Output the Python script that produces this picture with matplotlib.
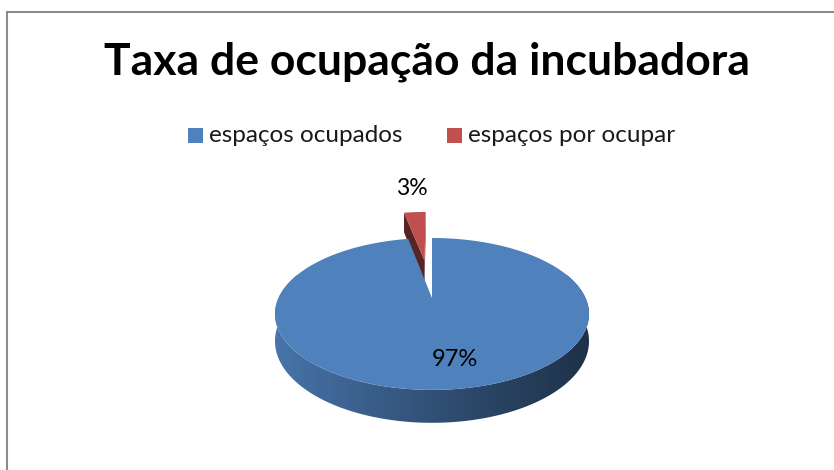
import numpy as np
import matplotlib
matplotlib.use('Agg')
import matplotlib.pyplot as plt
from matplotlib.patches import Polygon, Rectangle
from matplotlib.colors import LinearSegmentedColormap, to_rgb

title = 'Taxa de ocupação da incubadora'
categories = ['espaços ocupados', 'espaços por ocupar']
shares = [97, 3]
top_colors = ['#4f81bd', '#c0504d']
explode = [0.0, 0.58]

# disc geometry in pixel units (y grows downwards)
cx, cy = 432, 298
rx, ry = 153.5, 72.6
persp = 0.21
depth = 26


def project(theta, r=1.0, z=0.0, shift=0.0, mid=0.0):
    theta = np.asarray(theta, dtype=float)
    u = r * np.sin(theta) + shift * np.sin(mid)
    w = r * np.cos(theta) + shift * np.cos(mid)
    s = 1 + persp * w
    return cx + rx * u / s, cy - ry * w / s + z * depth / s


def shade(color, k):
    return tuple(np.clip(np.array(to_rgb(color)) * k, 0, 1))


fig = plt.figure(figsize=(8.34, 4.70), dpi=100)
ax = fig.add_axes([0, 0, 1, 1])
ax.axis('off')

total = float(sum(shares))
bounds = np.cumsum([0] + shares) / total * 2 * np.pi
cam = np.array([0.0, -1.0 / persp])

# back slices first so the front ones cover them
order = sorted(range(len(shares)), key=lambda i: -np.cos((bounds[i] + bounds[i + 1]) / 2))
for n, i in enumerate(order):
    t0, t1 = bounds[i], bounds[i + 1]
    mid = (t0 + t1) / 2
    e = explode[i]
    zb = 2 + n * 4
    p = np.array([e * np.sin(mid), e * np.cos(mid)])

    # outer wall, front part only
    lo, hi = max(t0, np.pi / 2 - 0.35), min(t1, 3 * np.pi / 2 + 0.35)
    if hi > lo:
        th = np.linspace(lo, hi, 200)
        xt, yt = project(th, shift=e, mid=mid)
        xb, yb = project(th[::-1], z=1, shift=e, mid=mid)
        wall = Polygon(np.column_stack([np.r_[xt, xb], np.r_[yt, yb]]),
                       closed=True, facecolor='none', edgecolor='none')
        ax.add_patch(wall)
        cmap = LinearSegmentedColormap.from_list(
            'wall', [shade(top_colors[i], 0.9), shade(top_colors[i], 0.62),
                     shade(top_colors[i], 0.38)])
        grad = np.linspace(0, 1, 256)[None, :]
        im = ax.imshow(grad, cmap=cmap, aspect='auto',
                       extent=(xt.min(), xt.max(), yb.max(), yt.min()),
                       zorder=zb, interpolation='bicubic')
        im.set_clip_path(wall)

    # cut faces of the wedge
    for t, sgn in ((t0, -1), (t1, 1)):
        normal = np.array([np.sin(t + sgn * np.pi / 2), np.cos(t + sgn * np.pi / 2)])
        if normal @ (cam - p) <= 1e-6:
            continue
        rr = np.array([0.0, 1.0])
        xa, ya = project(np.full(2, t), r=rr, shift=e, mid=mid)
        xz, yz = project(np.full(2, t), r=rr[::-1], z=1, shift=e, mid=mid)
        ax.add_patch(Polygon(np.column_stack([np.r_[xa, xz], np.r_[ya, yz]]),
                             closed=True, facecolor=shade(top_colors[i], 0.45),
                             edgecolor='none', zorder=zb + 1))

    # top surface
    th = np.linspace(t0, t1, 300)
    xs, ys = project(th, shift=e, mid=mid)
    x0, y0 = project(0.0, r=0.0, shift=e, mid=mid)
    ax.add_patch(Polygon(np.column_stack([np.r_[x0, xs], np.r_[y0, ys]]),
                         closed=True, facecolor=top_colors[i], edgecolor='none',
                         zorder=zb + 2))

# data labels
for i, (t0, t1) in enumerate(zip(bounds[:-1], bounds[1:])):
    mid = (t0 + t1) / 2
    txt = f'{shares[i] / total * 100:.0f}%'
    if explode[i] > 0:
        lx, ly = project(mid, r=1.0, shift=explode[i], mid=mid)
        ax.text(lx - 3, ly - 13, txt, ha='center', va='bottom', fontsize=16.5,
                family='Lato', color='black', zorder=20)
    else:
        lx, ly = project(mid, r=0.72, shift=explode[i], mid=mid)
        ax.text(lx + 11, ly, txt, ha='center', va='center', fontsize=17,
                family='Lato', color='black', zorder=20)

# title and legend
ax.text(427, 62, title, ha='center', va='center', fontsize=32,
        fontweight='bold', family='Lato', color='black')
legend_x = [188, 447]
for i, name in enumerate(categories):
    ax.add_patch(Rectangle((legend_x[i], 128), 15, 15, facecolor=top_colors[i],
                           edgecolor='none'))
    ax.text(legend_x[i] + 21, 136, name, ha='left', va='center', fontsize=17.5,
            family='Lato', color='#1a1a1a')

# chart border (top and left edges)
ax.plot([7, 7, 834], [470, 12, 12], color='#8c8c8c', lw=1.5,
        solid_joinstyle='miter', clip_on=False)

ax.set_xlim(0, 834)
ax.set_ylim(470, 0)
fig.savefig('out.png', dpi=100)
